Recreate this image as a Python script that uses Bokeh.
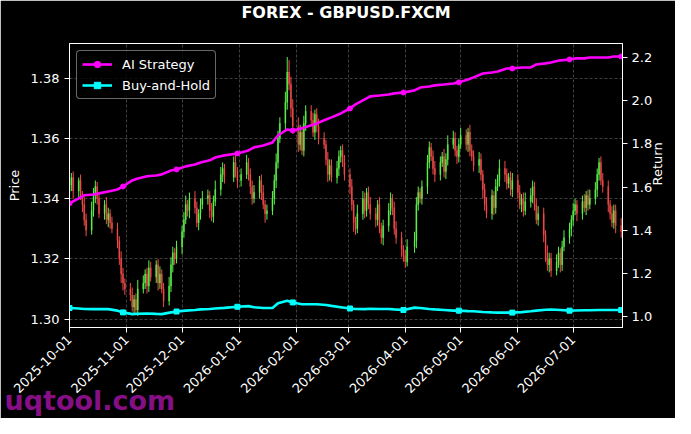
import numpy as np
import pandas as pd
from bokeh.plotting import figure
from bokeh.models import (Range1d, LinearAxis, FixedTicker, PrintfTickFormatter, Title,
                          DatetimeTickFormatter, Legend, LegendItem, ColumnDataSource)
from bokeh.embed import file_html
from bokeh.resources import INLINE

# ---------------- data ----------------
START = "2025-10-01"
END = "2026-07-27"
HOLIDAYS = ["2025-12-25", "2025-12-26", "2026-01-01", "2026-04-03"]

first_open = 1.3420
close = [
    # Oct
    1.3445, 1.3470, 1.3425,
    1.3460, 1.3410, 1.3380, 1.3330, 1.3295,
    1.3360, 1.3410, 1.3440, 1.3400, 1.3350,
    1.3380, 1.3330, 1.3350, 1.3320, 1.3300,
    1.3260, 1.3200, 1.3150, 1.3120, 1.3100,
    # Nov
    1.3080, 1.3040, 1.3065, 1.3030, 1.3100,
    1.3120, 1.3150, 1.3110, 1.3170, 1.3140,
    1.3180, 1.3120, 1.3150, 1.3100, 1.3060,
    1.3110, 1.3180, 1.3220, 1.3200, 1.3240,
    # Dec
    1.3290, 1.3330, 1.3380, 1.3360, 1.3400,
    1.3370, 1.3320, 1.3350, 1.3380, 1.3400,
    1.3410, 1.3360, 1.3340, 1.3390, 1.3430,
    1.3480, 1.3500, 1.3470,
    1.3520, 1.3490, 1.3460,
    # Jan
    1.3480,
    1.3520, 1.3480, 1.3440, 1.3400, 1.3420,
    1.3460, 1.3420, 1.3380, 1.3350, 1.3360,
    1.3400, 1.3460, 1.3520, 1.3600, 1.3650,
    1.3720, 1.3820, 1.3780, 1.3700, 1.3640,
    # Feb
    1.3580, 1.3620, 1.3560, 1.3650, 1.3690,
    1.3660, 1.3620, 1.3680, 1.3640, 1.3600,
    1.3580, 1.3530, 1.3480, 1.3510, 1.3470,
    1.3500, 1.3540, 1.3560, 1.3520, 1.3480,
    # Mar
    1.3440, 1.3380, 1.3320, 1.3300, 1.3350,
    1.3400, 1.3360, 1.3420, 1.3380, 1.3350,
    1.3330, 1.3380, 1.3300, 1.3270, 1.3310,
    1.3360, 1.3400, 1.3370, 1.3300, 1.3270,
    1.3230, 1.3210,
    # Apr
    1.3190, 1.3240,
    1.3260, 1.3380, 1.3420, 1.3400, 1.3440,
    1.3520, 1.3570, 1.3540, 1.3500, 1.3480,
    1.3520, 1.3540, 1.3490, 1.3530, 1.3580,
    1.3600, 1.3560, 1.3540, 1.3580,
    # May
    1.3610,
    1.3580, 1.3620, 1.3560, 1.3540, 1.3510,
    1.3530, 1.3480, 1.3430, 1.3380, 1.3350,
    1.3410, 1.3370, 1.3440, 1.3460, 1.3500,
    1.3480, 1.3450, 1.3470, 1.3430, 1.3460,
    # Jun
    1.3420, 1.3380, 1.3400, 1.3360, 1.3390,
    1.3410, 1.3440, 1.3380, 1.3330, 1.3350,
    1.3280, 1.3220, 1.3180, 1.3200, 1.3160,
    1.3190, 1.3220, 1.3180, 1.3240, 1.3270,
    1.3300, 1.3330,
    # Jul
    1.3360, 1.3380, 1.3350,
    1.3390, 1.3370, 1.3410, 1.3380, 1.3400,
    1.3430, 1.3480, 1.3520, 1.3460, 1.3440,
    1.3380, 1.3350, 1.3320, 1.3360, 1.3310,
    1.3290,
]

# wick lengths in pips above max(open, close) and below min(open, close)
wick_up = [
    25, 15, 20, 10, 20, 15, 25, 20, 30, 25, 20, 15, 20, 15, 25, 20, 15, 20, 20, 15, 25, 20, 15,
    20, 25, 15, 20, 30, 25, 15, 20, 25, 20, 15, 20, 25, 15, 20, 30, 25, 20, 15, 20,
    20, 25, 30, 15, 20, 25, 20, 15, 20, 25, 20, 15, 25, 20, 30, 25, 20, 15, 20, 25, 15,
    20, 25, 15, 20, 20, 25, 15, 20, 25, 15, 20, 25, 20, 30, 25, 20, 35, 50, 40, 25, 30,
    30, 25, 20, 25, 20, 20, 25, 15, 20, 25, 20, 15, 25, 20, 20, 25, 20, 15, 20, 25,
    20, 25, 15, 20, 30, 25, 20, 15, 20, 25, 20, 15, 25, 20, 20, 25, 20, 15, 20, 25, 20, 15,
    20, 25, 30, 25, 20, 15, 20, 25, 20, 15, 20, 25, 20, 15, 25, 20, 30, 25, 20, 15, 20,
    25, 20, 15, 25, 20, 20, 25, 20, 15, 20, 25, 20, 15, 25, 20, 30, 25, 20, 15, 20, 25,
    20, 25, 15, 20, 30, 25, 20, 15, 20, 25, 20, 15, 25, 20, 20, 25, 20, 15, 20, 25, 20, 15,
    25, 20, 15, 20, 25, 15, 20, 30, 25, 20, 15, 20, 25, 20, 15, 25, 20, 20, 25,
]
wick_dn = [
    15, 20, 25, 20, 15, 25, 20, 20, 15, 20, 25, 20, 15, 20, 15, 25, 20, 15, 25, 20, 30, 25, 20,
    20, 15, 25, 10, 20, 15, 20, 25, 20, 15, 20, 25, 20, 15, 20, 15, 20, 25, 20, 15,
    25, 20, 15, 20, 25, 20, 15, 25, 20, 15, 20, 25, 15, 20, 15, 20, 25, 20, 15, 20, 25,
    20, 15, 20, 25, 20, 15, 20, 25, 15, 30, 20, 15, 20, 25, 20, 15, 20, 25, 20, 30, 25,
    25, 20, 15, 20, 25, 20, 15, 25, 20, 20, 15, 20, 25, 20, 15, 20, 25, 20, 15, 20,
    25, 20, 30, 20, 15, 20, 25, 20, 15, 20, 25, 20, 15, 20, 25, 20, 15, 25, 20, 20, 25, 20,
    20, 15, 20, 25, 20, 15, 20, 25, 20, 15, 20, 25, 20, 15, 20, 25, 20, 15, 20, 25, 20,
    15, 20, 25, 20, 15, 20, 25, 20, 30, 20, 15, 20, 25, 20, 15, 20, 25, 20, 15, 20, 25,
    20, 15, 25, 20, 15, 20, 25, 20, 15, 20, 25, 30, 20, 25, 20, 15, 20, 25, 20, 15, 20, 25,
    20, 15, 25, 20, 15, 25, 20, 15, 20, 25, 20, 15, 20, 25, 20, 15, 20, 25, 20,
]

# returns, sampled every 3rd trading day plus the last day
ret_step = 3
ai_return = [
    1.525, 1.548, 1.562, 1.566, 1.571, 1.580, 1.589, 1.603, 1.631, 1.640,
    1.650, 1.654, 1.659, 1.677, 1.682, 1.696, 1.705, 1.714, 1.724, 1.737,
    1.747, 1.756, 1.770, 1.784, 1.793, 1.807, 1.839, 1.867, 1.862, 1.872,
    1.886, 1.895, 1.913, 1.923, 1.941, 1.964, 1.983, 2.006, 2.020, 2.024,
    2.029, 2.034, 2.038, 2.048, 2.061, 2.066, 2.071, 2.075, 2.080, 2.085,
    2.098, 2.108, 2.126, 2.131, 2.135, 2.149, 2.149, 2.154, 2.154, 2.168,
    2.173, 2.177, 2.187, 2.191, 2.196, 2.196, 2.200, 2.200, 2.200, 2.205,
    2.205,
]
bh_return = [
    1.040, 1.038, 1.036, 1.035, 1.035, 1.035, 1.028, 1.020, 1.012, 1.014,
    1.015, 1.013, 1.012, 1.020, 1.024, 1.028, 1.031, 1.034, 1.036, 1.038,
    1.041, 1.046, 1.049, 1.044, 1.040, 1.040, 1.062, 1.074, 1.066, 1.058,
    1.058, 1.058, 1.054, 1.050, 1.044, 1.038, 1.036, 1.035, 1.037, 1.036,
    1.036, 1.034, 1.031, 1.042, 1.040, 1.036, 1.034, 1.031, 1.028, 1.028,
    1.026, 1.025, 1.022, 1.020, 1.019, 1.019, 1.019, 1.021, 1.025, 1.028,
    1.032, 1.033, 1.031, 1.028, 1.029, 1.030, 1.030, 1.031, 1.031, 1.031,
    1.031,
]
marker_every = 7

x_tick_labels = ["2025-10-01", "2025-11-01", "2025-12-01", "2026-01-01", "2026-02-01",
                 "2026-03-01", "2026-04-01", "2026-05-01", "2026-06-01", "2026-07-01"]
price_ticks = [1.30, 1.32, 1.34, 1.36, 1.38]
return_ticks = [1.0, 1.2, 1.4, 1.6, 1.8, 2.0, 2.2]

TITLE = "FOREX - GBPUSD.FXCM"
WATERMARK = "uqtool.com"

# ---------------- derived ----------------
days = pd.bdate_range(START, END)
days = days[~days.isin(pd.to_datetime(HOLIDAYS))]
n = min(len(days), len(close))
days = days[:n]
c = np.array(close[:n])
o = np.concatenate([[first_open], c[:-1]])
hi = np.maximum(o, c) + np.array(wick_up[:n]) * 1e-4
lo = np.minimum(o, c) - np.array(wick_dn[:n]) * 1e-4
up = c >= o
GREEN = "#5cf04c"
RED = "#f04a4a"
col = np.where(up, GREEN, RED)

cs = ColumnDataSource(dict(x=days, o=o, c=c, hi=hi, lo=lo, col=col,
                           top=np.maximum(o, c), bot=np.minimum(o, c)))

ridx = list(range(0, n, ret_step))
if ridx[-1] != n - 1:
    ridx.append(n - 1)
rdays = days[ridx]
m = min(len(rdays), len(ai_return), len(bh_return))
rs = ColumnDataSource(dict(x=rdays[:m], ai=ai_return[:m], bh=bh_return[:m]))
mk = list(range(0, m, marker_every))
ms = ColumnDataSource(dict(x=rdays[mk], ai=[ai_return[i] for i in mk], bh=[bh_return[i] for i in mk]))

DAY = 86400000
x0 = pd.Timestamp(START)
x1 = pd.Timestamp(END) + pd.Timedelta(hours=17)

FONT = "DejaVu Sans"

p = figure(width=675, height=418, x_axis_type="datetime",
           x_range=Range1d(x0, x1), y_range=Range1d(1.2972, 1.3915),
           output_backend="svg", toolbar_location=None,
           background_fill_color="black", border_fill_color="black",
           min_border_left=69, min_border_right=53, min_border_top=43, min_border_bottom=91)

xa = p.below[0]
ya = p.left[0]

p.title.text = TITLE
p.title.align = "center"
p.title.text_color = "white"
p.title.text_font = FONT
p.title.text_font_size = "16px"
p.title.text_font_style = "bold"
p.title.vertical_align = "top"
p.title.standoff = 0

# blank title used only as spacing between the frame and the real title
spacer = Title(text=" ", text_font=FONT, text_font_size="10px", standoff=7)
p.add_layout(spacer, "above")

p.extra_y_ranges = {"ret": Range1d(0.950, 2.265)}

# candles
p.segment(x0="x", y0="hi", x1="x", y1="lo", color="col", line_width=1.0, source=cs)
p.vbar(x="x", width=0.6 * DAY, top="top", bottom="bot", fill_color="col", line_color="col",
       line_width=0.3, source=cs)

# returns
ai_line = p.line("x", "ai", source=rs, color="#ff00ff", line_width=2.6, y_range_name="ret")
ai_mk = p.scatter("x", "ai", source=ms, marker="circle", size=5, color="#ff00ff", y_range_name="ret")
bh_line = p.line("x", "bh", source=rs, color="#00ffff", line_width=2.6, y_range_name="ret")
bh_mk = p.scatter("x", "bh", source=ms, marker="square", size=5, color="#00ffff", y_range_name="ret")

# axes
tick_ms = [pd.Timestamp(t).value // 10**6 for t in x_tick_labels]
xa.ticker = FixedTicker(ticks=tick_ms)
fmt = "%Y-%m-%d"
xa.formatter = DatetimeTickFormatter(milliseconds=fmt, seconds=fmt, minsec=fmt, minutes=fmt,
                                     hourmin=fmt, hours=fmt, days=fmt, months=fmt, years=fmt)
xa.major_label_orientation = np.pi / 4

ya.ticker = FixedTicker(ticks=price_ticks)
ya.formatter = PrintfTickFormatter(format="%.2f")
ya.axis_label = "Price"

ra = LinearAxis(y_range_name="ret", ticker=FixedTicker(ticks=return_ticks),
                formatter=PrintfTickFormatter(format="%.1f"), axis_label="Return")
p.add_layout(ra, "right")
try:
    ra.axis_label_orientation = np.pi / 2
except Exception:
    pass

for ax in [xa, ya, ra]:
    ax.axis_line_color = "white"
    ax.major_tick_line_color = "white"
    ax.minor_tick_line_color = None
    ax.major_tick_out = 5
    ax.major_tick_in = 0
    ax.major_label_text_color = "white"
    ax.major_label_text_font = FONT
    ax.major_label_text_font_size = "13px"
    ax.major_label_standoff = 5
    ax.axis_label_text_color = "white"
    ax.axis_label_text_font = FONT
    ax.axis_label_text_font_size = "13px"
    ax.axis_label_text_font_style = "normal"
ya.axis_label_standoff = 6
ra.major_label_standoff = 4
ra.axis_label_standoff = 2

p.outline_line_color = "white"
p.outline_line_width = 1

p.xgrid.ticker = FixedTicker(ticks=tick_ms)
p.ygrid.ticker = FixedTicker(ticks=price_ticks)
for g in [p.xgrid[0], p.ygrid[0]]:
    g.grid_line_color = "#5a5a5a"
    g.grid_line_dash = "3 2"
    g.grid_line_width = 0.7

# watermark: a title in the bottom side panel (side panels are not clipped to the frame)
wm = Title(text=WATERMARK, align="left", offset=-65, vertical_align="top",
           text_color="#860f86", text_font=FONT, text_font_size="27px", text_font_style="bold")
try:
    wm.standoff = -32
except Exception:
    wm.standoff = 0
p.add_layout(wm, "below")

legend = Legend(items=[LegendItem(label="AI Strategy", renderers=[ai_line, ai_mk]),
                       LegendItem(label="Buy-and-Hold", renderers=[bh_line, bh_mk])],
                location="top_left", margin=7, padding=5, spacing=5,
                glyph_width=30, glyph_height=16, label_standoff=10,
                label_text_color="white", label_text_font=FONT, label_text_font_size="13px",
                background_fill_color="black", background_fill_alpha=0.8,
                border_line_color="#d0d0d0", border_line_width=1)
try:
    legend.border_radius = 4
except Exception:
    pass
p.add_layout(legend)

open("out.html", "w").write(file_html(p, INLINE))
